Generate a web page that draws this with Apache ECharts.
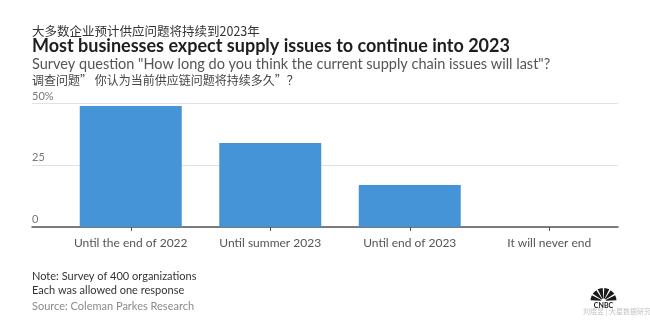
<!DOCTYPE html>
<html>
<head>
<meta charset="utf-8">
<script src="https://cdn.jsdelivr.net/npm/echarts@6/dist/echarts.min.js"></script>
<style>
html,body{margin:0;padding:0;background:#fff;}
#chart{width:650px;height:336px;}
</style>
</head>
<body>
<div id="chart"></div>
<script>
const categories = ['Until the end of 2022', 'Until summer 2023', 'Until end of 2023', 'It will never end'];
const shares = [49, 34, 17, 0];
const yTicks = [0, 25, 50];
const titleZh = '大多数企业预计供应问题将持续到2023年';
const titleEn = 'Most businesses expect supply issues to continue into 2023';
const questionEn = 'Survey question "How long do you think the current supply chain issues will last"?';
const questionZh = '调查问题” 你认为当前供应链问题将持续多久”？';
const notes = ['Note: Survey of 400 organizations', 'Each was allowed one response'];
const source = 'Source: Coleman Parkes Research';

const chart = echarts.init(document.getElementById('chart'), null, {renderer: 'canvas'});
const EN = 'Lato, "Noto Sans", sans-serif';
const ZH = '"Noto Sans CJK SC", sans-serif';

function txt(x, y, text, font, fill) {
  return {type: 'text', x: x, y: y, silent: true,
    style: {text: text, font: font, fill: fill, verticalAlign: 'middle', align: 'left'}};
}

// decorative peacock logo (fan of six feathers)
const feathers = [];
for (let i = 0; i < 6; i++) {
  const a0 = Math.PI + i * Math.PI / 6 + 0.06;
  const a1 = Math.PI + (i + 1) * Math.PI / 6 - 0.06;
  feathers.push({type: 'sector', silent: true,
    shape: {cx: 603.5, cy: 301, r: 13, r0: 2.5, startAngle: a0, endAngle: a1, clockwise: true},
    style: {fill: '#1a1a1a'}});
}

const option = {
  animation: false,
  backgroundColor: '#ffffff',
  grid: [
    {left: 61, right: 31, top: 103.5, bottom: 109},
    {left: 32, right: 32, top: 103.5, bottom: 109}
  ],
  xAxis: [
    {type: 'category', gridIndex: 0, data: categories,
      axisLine: {show: false},
      axisTick: {show: true, alignWithLabel: true, length: 4, lineStyle: {color: '#555', width: 1}},
      axisLabel: {interval: 0, fontFamily: EN, fontSize: 12, color: '#555', margin: 10},
      splitLine: {show: false}},
    {type: 'value', gridIndex: 1, min: 0, max: 1,
      axisLine: {show: true, onZero: false, lineStyle: {color: '#555', width: 1.5}},
      axisTick: {show: false}, axisLabel: {show: false}, splitLine: {show: false}}
  ],
  yAxis: [
    {type: 'value', gridIndex: 0, min: yTicks[0], max: yTicks[yTicks.length - 1], interval: 25, show: false},
    {type: 'value', gridIndex: 1, min: yTicks[0], max: yTicks[yTicks.length - 1], interval: 25,
      axisLine: {show: false}, axisTick: {show: false},
      splitLine: {show: true, lineStyle: {color: '#e2e2e2', width: 1.2}},
      axisLabel: {inside: true, margin: 0, align: 'left', verticalAlign: 'bottom', padding: [0, 0, 2, 0],
        fontFamily: EN, fontSize: 11, color: '#777',
        formatter: v => v === 50 ? v + '%' : String(v)}}
  ],
  series: [
    {type: 'bar', xAxisIndex: 0, yAxisIndex: 0, data: shares, barWidth: 102,
      itemStyle: {color: '#4594d8'}, z: 3}
  ],
  graphic: [
    txt(32, 31, titleZh, '12.5px ' + ZH, '#333'),
    txt(32, 46, titleEn, 'bold 18px ' + EN, '#1e1e1e'),
    txt(32, 64, questionEn, '14.5px ' + EN, '#555'),
    txt(32, 80, questionZh, '12px ' + ZH, '#444'),
    txt(32, 276, notes[0], '11px ' + EN, '#333'),
    txt(32, 290, notes[1], '11px ' + EN, '#333'),
    txt(32, 306, source, '11px ' + EN, '#8a8a8a'),
    ...feathers,
    {type: 'text', x: 603.5, y: 305.5, silent: true,
      style: {text: 'CNBC', font: 'bold 7px ' + EN, fill: '#1a1a1a', align: 'center', verticalAlign: 'middle'}},
    {type: 'text', x: 583, y: 311, silent: true,
      style: {text: '刘煜昱 | 大星数据研究所', font: '7px ' + ZH, fill: '#c4c4c4', align: 'left', verticalAlign: 'middle'}}
  ]
};
chart.setOption(option);
</script>
</body>
</html>
